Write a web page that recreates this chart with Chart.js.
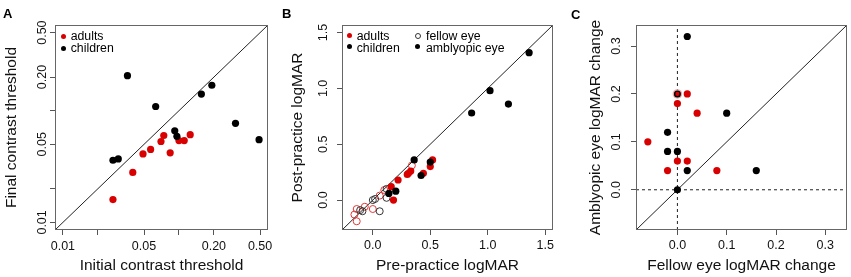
<!DOCTYPE html>
<html><head><meta charset="utf-8">
<script src="https://cdn.jsdelivr.net/npm/chart.js@4.4.1/dist/chart.umd.min.js"></script>
<style>
html,body{margin:0;padding:0;background:#fff;}
#wrap{position:relative;width:851px;height:277px;overflow:hidden;font-family:"Liberation Sans",Arial,Helvetica,sans-serif;}
#wrap canvas{position:absolute;top:0;}
.lab{position:absolute;font-weight:bold;font-size:13px;line-height:13px;color:#000;}
.lt{position:absolute;font-size:12.3px;line-height:12px;color:#000;white-space:nowrap;}
.dot{position:absolute;width:5px;height:5px;border-radius:50%;}
.odot{position:absolute;width:4px;height:4px;border-radius:50%;border:1px solid #333;background:#fff;}
</style>
</head><body>
<div id="wrap">
  <canvas id="cA" width="283" height="277" style="left:0px"></canvas>
  <canvas id="cB" width="283" height="277" style="left:283px"></canvas>
  <canvas id="cC" width="285" height="277" style="left:566px"></canvas>
  <div class="lab" style="left:3px;top:6.5px">A</div>
  <div class="lab" style="left:282px;top:6.5px">B</div>
  <div class="lab" style="left:571px;top:7.5px">C</div>

  <div class="dot" style="left:60.8px;top:33.5px;background:#D80000"></div>
  <div class="lt" style="left:70.7px;top:30px">adults</div>
  <div class="dot" style="left:60.8px;top:45.8px;background:#000"></div>
  <div class="lt" style="left:70.7px;top:42.4px">children</div>

  <div class="dot" style="left:346.8px;top:33.2px;background:#D80000"></div>
  <div class="lt" style="left:356.7px;top:30.4px">adults</div>
  <div class="dot" style="left:346.8px;top:44.2px;background:#000"></div>
  <div class="lt" style="left:356.7px;top:42px">children</div>
  <div class="odot" style="left:414.7px;top:32.7px"></div>
  <div class="lt" style="left:426px;top:30.4px">fellow eye</div>
  <div class="dot" style="left:415.2px;top:44.2px;background:#000"></div>
  <div class="lt" style="left:426px;top:42px">amblyopic eye</div>
</div>
<script>
// ---------- Panel A: contrast thresholds ----------
const aAdultsInitial   = [0.027, 0.040, 0.049, 0.057, 0.070, 0.074, 0.084, 0.100, 0.111, 0.125];
const aAdultsFinal     = [0.016, 0.028, 0.041, 0.045, 0.053, 0.060, 0.042, 0.054, 0.054, 0.061];
const aChildrenInitial = [0.027, 0.030, 0.036, 0.063, 0.092, 0.096, 0.156, 0.192, 0.307, 0.490];
const aChildrenFinal   = [0.036, 0.037, 0.206, 0.109, 0.066, 0.059, 0.141, 0.169, 0.077, 0.055];
const aTicks      = [0.01, 0.02, 0.05, 0.1, 0.2, 0.5];
const aTickLabels = {0.01: '0.01', 0.05: '0.05', 0.2: '0.20', 0.5: '0.50'};
const aRange      = [0.00855, 0.585];

// ---------- Panel B: logMAR pre/post ----------
const bAdultsAmbPre      = [0.52, 0.50, 0.44, 0.33, 0.31, 0.30, 0.22, 0.16, 0.18];
const bAdultsAmbPost     = [0.36, 0.30, 0.24, 0.26, 0.24, 0.23, 0.18, 0.12, 0.00];
const bChildrenAmbPre    = [1.36, 1.02, 1.18, 0.86, 0.36, 0.50, 0.42, 0.20, 0.14];
const bChildrenAmbPost   = [1.32, 0.98, 0.86, 0.78, 0.36, 0.34, 0.22, 0.08, 0.06];
const bAdultsFellowPre   = [-0.16, -0.14, -0.14, -0.07, 0.00, 0.06, 0.34, 0.10];
const bAdultsFellowPost  = [-0.13, -0.19, -0.08, -0.06, -0.08, 0.04, 0.31, 0.09];
const bChildrenFellowPre = [-0.11, -0.09, 0.06, 0.00, 0.02, 0.12, 0.12];
const bChildrenFellowPost= [-0.09, -0.10, -0.10, 0.00, 0.01, 0.10, 0.02];
const bTicks = [0, 0.5, 1.0, 1.5];
const bRange = [-0.268, 1.568];

// ---------- Panel C: logMAR change ----------
const cAdultsFellow   = [-0.06, -0.02, 0.00, 0.02, 0.00, 0.02, 0.04, 0.08];
const cAdultsAmb      = [0.10, 0.04, 0.06, 0.06, 0.18, 0.20, 0.16, 0.04];
const cChildrenFellow = [0.02, 0.10, -0.02, -0.02, 0.00, 0.02, 0.16, 0.00];
const cChildrenAmb    = [0.32, 0.16, 0.12, 0.08, 0.08, 0.04, 0.04, 0.00];
const cSharedFellow   = [0.00];   // adult and child coincide here
const cSharedAmb      = [0.20];
const cTicks = [0, 0.1, 0.2, 0.3];
const cRange = [-0.084, 0.344];

const FONT = '"Liberation Sans", Arial, Helvetica, sans-serif';
const RED = '#D80000';
const pts = (xs, ys) => xs.map((x, i) => ({x, y: ys[i]}));

function axis(o) {
  return {
    type: o.type || 'linear',
    position: o.position,
    min: o.range[0], max: o.range[1],
    bounds: 'data',
    afterBuildTicks: s => { s.ticks = o.ticks.map(v => ({value: v})); },
    afterFit: s => {
      if (o.position === 'left') s.width = o.size; else s.height = o.size;
      s.paddingLeft = 0; s.paddingRight = 0; s.paddingTop = 0; s.paddingBottom = 0;
    },
    grid: {display: true, drawOnChartArea: false, drawTicks: true, tickLength: 5, color: '#555', lineWidth: 1},
    border: {display: false},
    ticks: {
      autoSkip: false, color: '#111', font: {family: FONT, size: 12.5},
      padding: o.tickPad,
      minRotation: o.position === 'left' ? 90 : 0,
      maxRotation: o.position === 'left' ? 90 : 0,
      crossAlign: o.position === 'left' ? 'center' : 'near',
      callback: o.fmt
    },
    title: {display: true, text: o.title, color: '#111', font: {family: FONT, size: 15.5},
            padding: {top: o.titlePad, bottom: o.titlePad}}
  };
}

const frame = {
  id: 'frame',
  afterDraw(chart) {
    const {ctx, chartArea: a} = chart;
    ctx.save();
    ctx.strokeStyle = '#666';
    ctx.lineWidth = 1;
    ctx.strokeRect(Math.round(a.left) + 0.5, Math.round(a.top) + 0.5,
                   Math.round(a.right - a.left) - 1, Math.round(a.bottom - a.top) - 1);
    ctx.restore();
  }
};

function lineDs(data, dash, order) {
  return {data, showLine: true, borderColor: '#222', borderWidth: 1, borderDash: dash || [],
          pointRadius: 0, order, clip: 0};
}
function filled(data, color, order, r) {
  return {data, backgroundColor: color, borderWidth: 0, pointRadius: r || 3.6, pointHoverRadius: r || 3.6, order};
}
function open(data, color, order) {
  return {data, backgroundColor: 'rgba(0,0,0,0)', borderColor: color, borderWidth: 1,
          pointRadius: 3.5, pointHoverRadius: 3.5, order};
}

function makeChart(id, datasets, xAx, yAx, padRight) {
  return new Chart(document.getElementById(id), {
    type: 'scatter',
    data: {datasets},
    options: {
      responsive: false, animation: false, devicePixelRatio: 1,
      layout: {padding: {left: 0, right: padRight, top: 25, bottom: 0}, autoPadding: false},
      plugins: {legend: {display: false}, tooltip: {enabled: false}, title: {display: false}},
      scales: {x: xAx, y: yAx}
    },
    plugins: [frame]
  });
}

// Panel A
const aFmt = v => (aTickLabels[v] !== undefined ? aTickLabels[v] : '');
makeChart('cA', [
  lineDs([{x: aRange[0], y: aRange[0]}, {x: aRange[1], y: aRange[1]}], null, 10),
  filled(pts(aAdultsInitial, aAdultsFinal), RED, 5),
  filled(pts(aChildrenInitial, aChildrenFinal), '#000', 1)
],
  axis({type: 'logarithmic', position: 'bottom', range: aRange, ticks: aTicks, fmt: aFmt, size: 47,
        tickPad: 4, title: 'Initial contrast threshold', titlePad: 2}),
  axis({type: 'logarithmic', position: 'left', range: aRange, ticks: aTicks, fmt: aFmt, size: 55,
        tickPad: -5.2, title: 'Final contrast threshold', titlePad: 2.7}),
  15);

// Panel B
const bFmt = v => v.toFixed(1);
makeChart('cB', [
  lineDs([{x: bRange[0], y: bRange[0]}, {x: bRange[1], y: bRange[1]}], null, 10),
  open(pts(bAdultsFellowPre, bAdultsFellowPost), '#E03838', 8),
  open(pts(bChildrenFellowPre, bChildrenFellowPost), '#333', 7),
  filled(pts(bAdultsAmbPre, bAdultsAmbPost), RED, 5),
  filled(pts(bChildrenAmbPre, bChildrenAmbPost), '#000', 1)
],
  axis({position: 'bottom', range: bRange, ticks: bTicks, fmt: bFmt, size: 47,
        tickPad: 3.5, title: 'Pre-practice logMAR', titlePad: 2}),
  axis({position: 'left', range: bRange, ticks: bTicks, fmt: bFmt, size: 59,
        tickPad: 4.7, title: 'Post-practice logMAR', titlePad: 5.2}),
  13);

// Panel C
const cFmt = v => v.toFixed(1);
makeChart('cC', [
  lineDs([{x: cRange[0], y: cRange[0]}, {x: cRange[1], y: cRange[1]}], null, 12),
  lineDs([{x: 0, y: cRange[0]}, {x: 0, y: cRange[1]}], [3, 3], 11),
  lineDs([{x: cRange[0], y: 0}, {x: cRange[1], y: 0}], [3, 3], 11),
  filled(pts(cSharedFellow, cSharedAmb), '#F0A8A8', 9, 4.8),
  filled(pts(cAdultsFellow, cAdultsAmb), RED, 5),
  filled(pts(cChildrenFellow, cChildrenAmb), '#000', 3),
  filled(pts(cSharedFellow, cSharedAmb), '#000', 2, 3.5),
  filled(pts(cSharedFellow, cSharedAmb), RED, 1, 2.1)
],
  axis({position: 'bottom', range: cRange, ticks: cTicks, fmt: cFmt, size: 47,
        tickPad: 3, title: 'Fellow eye logMAR change', titlePad: 2}),
  axis({position: 'left', range: cRange, ticks: cTicks, fmt: cFmt, size: 70,
        tickPad: 5.6, title: 'Amblyopic eye logMAR change', titlePad: 20.7}),
  4);
</script>
</body></html>
